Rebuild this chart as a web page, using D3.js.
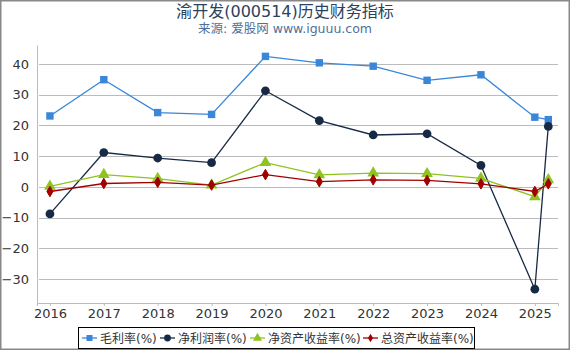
<!DOCTYPE html>
<html>
<head>
<meta charset="utf-8">
<script src="https://cdn.jsdelivr.net/npm/d3@7"></script>
<style>
  body { margin: 0; background: #fff; }
  svg { display: block; font-family: "DejaVu Sans", "Noto Sans CJK SC", sans-serif; }
</style>
</head>
<body>
<svg id="drawing_region"></svg>
<script>
// x positions: annual points plus a Q1 point after 2025
const periods = [2016, 2017, 2018, 2019, 2020, 2021, 2022, 2023, 2024, 2025, 2025.25];
const grossMargin = [23.1, 34.9, 24.2, 23.6, 42.5, 40.4, 39.3, 34.7, 36.5, 22.7, 21.9];
const netMargin = [-8.8, 11.2, 9.4, 7.9, 31.3, 21.6, 16.9, 17.3, 7.0, -33.3, 19.7];
const roe = [0.2, 4.0, 2.7, 0.6, 7.9, 3.9, 4.5, 4.3, 2.8, -3.2, 2.3];
const roa = [-1.5, 1.1, 1.5, 0.6, 4.0, 1.7, 2.3, 2.1, 1.0, -1.5, 1.0];
const xTicks = [2016, 2017, 2018, 2019, 2020, 2021, 2022, 2023, 2024, 2025];
const yTicks = [-30, -20, -10, 0, 10, 20, 30, 40];
const seriesNames = ['毛利率(%)', '净利润率(%)', '净资产收益率(%)', '总资产收益率(%)'];
const seriesColors = ['#3a86d8', '#172a45', '#8fc31f', '#a00000'];
const seriesShapes = [d3.symbolSquare, d3.symbolCircle, d3.symbolTriangle, d3.symbolDiamond];

const width = 570, height = 350;
const margin = {top: 45, right: 12, bottom: 48, left: 37};

const svg = d3.select('#drawing_region')
    .attr('width', width)
    .attr('height', height);

svg.append('rect')
    .attr('x', 0.5).attr('y', 0.5)
    .attr('width', width - 1).attr('height', height - 1)
    .attr('fill', 'none')
    .attr('stroke', '#888')
    .attr('stroke-width', 2);

svg.append('text')
    .attr('x', 285).attr('y', 17)
    .attr('text-anchor', 'middle')
    .attr('font-size', 16)
    .attr('fill', '#2b4260')
    .text('渝开发(000514)历史财务指标');

svg.append('text')
    .attr('x', 285).attr('y', 33)
    .attr('text-anchor', 'middle')
    .attr('font-size', 12.5)
    .attr('fill', '#4f6f9a')
    .text('来源: 爱股网 www.iguuu.com');

const xscale = d3.scaleLinear()
    .domain([2015.76, 2025.43])
    .range([margin.left, width - margin.right]);

const yscale = d3.scaleLinear()
    .domain([-37.8, 46.2])
    .range([height - margin.bottom + 1, margin.top]);

// grid
svg.append('g')
    .selectAll('line')
    .data(yTicks)
    .join('line')
    .attr('x1', margin.left + 2)
    .attr('x2', width - margin.right)
    .attr('y1', d => Math.round(yscale(d)) + 0.5)
    .attr('y2', d => Math.round(yscale(d)) + 0.5)
    .attr('stroke', '#bbb')
    .attr('stroke-width', 1);

const yaxis = d3.axisLeft(yscale)
    .tickValues(yTicks)
    .tickSize(0)
    .tickPadding(8);

const yaxis_group = svg.append('g')
    .attr('transform', `translate(${margin.left},0)`)
    .call(yaxis);
yaxis_group.select('.domain').attr('stroke', '#bbb');
yaxis_group.selectAll('text').attr('font-size', 13).attr('fill', '#333')
    .attr('font-family', '"DejaVu Sans", sans-serif');

const xaxis = d3.axisBottom(xscale)
    .tickValues(xTicks)
    .tickFormat(d3.format('d'))
    .tickSize(3)
    .tickPadding(3);

const xaxis_group = svg.append('g')
    .attr('transform', `translate(0,${height - margin.bottom + 1})`)
    .call(xaxis);
xaxis_group.select('.domain').attr('stroke', '#bbb');
xaxis_group.selectAll('line').attr('stroke', '#bbb');
xaxis_group.selectAll('text').attr('font-size', 13).attr('fill', '#333')
    .attr('font-family', '"DejaVu Sans", sans-serif');

const allSeries = [grossMargin, netMargin, roe, roa];
const markerSize = [55, 60, 60, 32];
const line = d3.line()
    .x((d, i) => xscale(periods[i]))
    .y(d => yscale(d));

allSeries.forEach((values, k) => {
    const g = svg.append('g');
    g.append('path')
        .datum(values)
        .attr('d', line)
        .attr('fill', 'none')
        .attr('stroke', seriesColors[k])
        .attr('stroke-width', 1.3);
    g.selectAll('path.pt')
        .data(values)
        .join('path')
        .attr('class', 'pt')
        .attr('transform', (d, i) => `translate(${xscale(periods[i])},${yscale(d)})`)
        .attr('d', d3.symbol().type(seriesShapes[k]).size(markerSize[k]))
        .attr('fill', seriesColors[k])
        .attr('stroke', seriesColors[k])
        .attr('stroke-width', k === 3 ? 1 : 0)
        .attr('stroke-linejoin', 'round');
});

// legend
const legend = svg.append('g');
legend.append('rect')
    .attr('x', 78.5).attr('y', 327.5)
    .attr('width', 396).attr('height', 21)
    .attr('fill', '#fff')
    .attr('stroke', '#000')
    .attr('stroke-width', 1);

const legendX = [82, 160, 250, 363];
seriesNames.forEach((name, k) => {
    const x0 = legendX[k];
    const item = legend.append('g').attr('transform', `translate(${x0},338)`);
    item.append('line')
        .attr('x1', 0).attr('x2', 15)
        .attr('stroke', seriesColors[k]).attr('stroke-width', 1.3);
    item.append('path')
        .attr('transform', 'translate(7.5,0)')
        .attr('d', d3.symbol().type(seriesShapes[k]).size(k === 3 ? 22 : 36))
        .attr('fill', seriesColors[k]);
    item.append('text')
        .attr('x', 18).attr('y', 4.5)
        .attr('font-size', 12)
        .attr('fill', '#333')
        .text(name);
});
</script>
</body>
</html>
